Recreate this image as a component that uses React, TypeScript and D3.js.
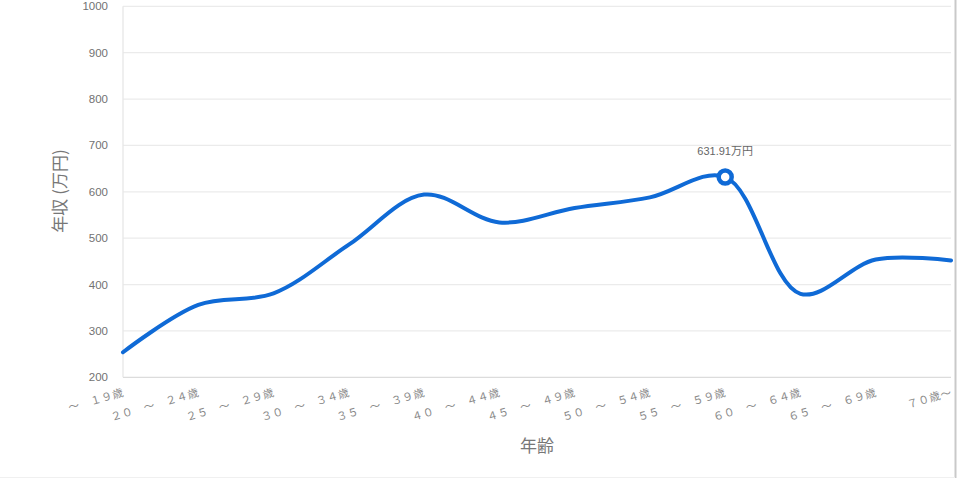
import { useMemo } from "react";
import * as d3 from "d3";

// age brackets (full-width text as in the source chart)
const AGE_LABELS = [
  "～　１９歳",
  "２０　～　２４歳",
  "２５　～　２９歳",
  "３０　～　３４歳",
  "３５　～　３９歳",
  "４０　～　４４歳",
  "４５　～　４９歳",
  "５０　～　５４歳",
  "５５　～　５９歳",
  "６０　～　６４歳",
  "６５　～　６９歳",
  "７０歳～",
];

// annual income, 万円
const INCOME = [254, 356, 381, 486, 594, 534, 565, 588, 631.91, 380, 454, 452];

const Y_TICKS = [200, 300, 400, 500, 600, 700, 800, 900, 1000];

const HIGHLIGHT_INDEX = 8;
const HIGHLIGHT_LABEL = "631.91万円";

const Y_TITLE = "年収 (万円)";
const X_TITLE = "年齢";

export default function App() {
  const width = 958;
  const height = 478;
  const plot = { left: 123, right: 951, top: 6.3, bottom: 377.3 };
  const latin = "'Liberation Sans', Arial, 'Noto Sans CJK JP', sans-serif";
  const cjk = "'Noto Sans CJK JP', 'Liberation Sans', sans-serif";

  const x = d3
    .scalePoint<number>()
    .domain(INCOME.map((_, i) => i))
    .range([plot.left, plot.right]);
  const y = d3.scaleLinear().domain([200, 1000]).range([plot.bottom, plot.top]);

  const path = useMemo(() => {
    const line = d3
      .line<number>()
      .x((_, i) => x(i) ?? 0)
      .y((d) => y(d))
      .curve(d3.curveCatmullRom.alpha(0.5));
    return line(INCOME) ?? "";
  }, []);

  const hx = x(HIGHLIGHT_INDEX) ?? 0;
  const hy = y(INCOME[HIGHLIGHT_INDEX]);

  return (
    <div style={{ position: "absolute", left: 0, top: 0 }}>
      <svg width={width} height={height} style={{ display: "block", background: "#fff" }}>
        {Y_TICKS.map((t) => (
          <g key={t}>
            <line
              x1={plot.left}
              x2={plot.right}
              y1={y(t)}
              y2={y(t)}
              stroke={t === 200 ? "#dcdcdc" : "#ebebeb"}
              strokeWidth={1.3}
            />
            <text
              x={108}
              y={y(t)}
              textAnchor="end"
              dominantBaseline="central"
              fontFamily={latin}
              fontSize={11.5}
              fill="#727272"
            >
              {t}
            </text>
          </g>
        ))}
        <line x1={plot.left} x2={plot.left} y1={plot.top} y2={plot.bottom} stroke="#e6e6e6" strokeWidth={1.3} />

        {AGE_LABELS.map((label, i) => {
          const xx = x(i) ?? 0;
          const yy = 391;
          return (
            <text
              key={label}
              x={xx}
              y={yy}
              textAnchor="end"
              dominantBaseline="central"
              transform={`rotate(-16 ${xx} ${yy})`}
              fontFamily={cjk}
              fontSize={11}
              letterSpacing={0.4}
              fill="#8a8a8a"
            >
              {label}
            </text>
          );
        })}

        <text
          transform={`translate(58 191) rotate(-90)`}
          textAnchor="middle"
          dominantBaseline="central"
          fontFamily={cjk}
          fontSize={17}
          fill="#777"
        >
          {Y_TITLE}
        </text>
        <text x={537} y={444} textAnchor="middle" dominantBaseline="central" fontFamily={cjk} fontSize={17} fill="#777">
          {X_TITLE}
        </text>

        <path d={path} fill="none" stroke="#0f6ad6" strokeWidth={4} strokeLinejoin="round" strokeLinecap="round" />
        <circle cx={hx} cy={hy} r={6.5} fill="#fff" stroke="#0f6ad6" strokeWidth={4.5} />
        <text x={hx} y={hy - 26} textAnchor="middle" dominantBaseline="central" fontFamily={latin} fontSize={11} fill="#666">
          {HIGHLIGHT_LABEL}
        </text>

        <line x1={955.5} x2={955.5} y1={0} y2={height} stroke="#c9c9c9" strokeWidth={2} />
        <line x1={0} x2={955} y1={477.5} y2={477.5} stroke="#f0f0f0" strokeWidth={1} />
      </svg>
    </div>
  );
}
